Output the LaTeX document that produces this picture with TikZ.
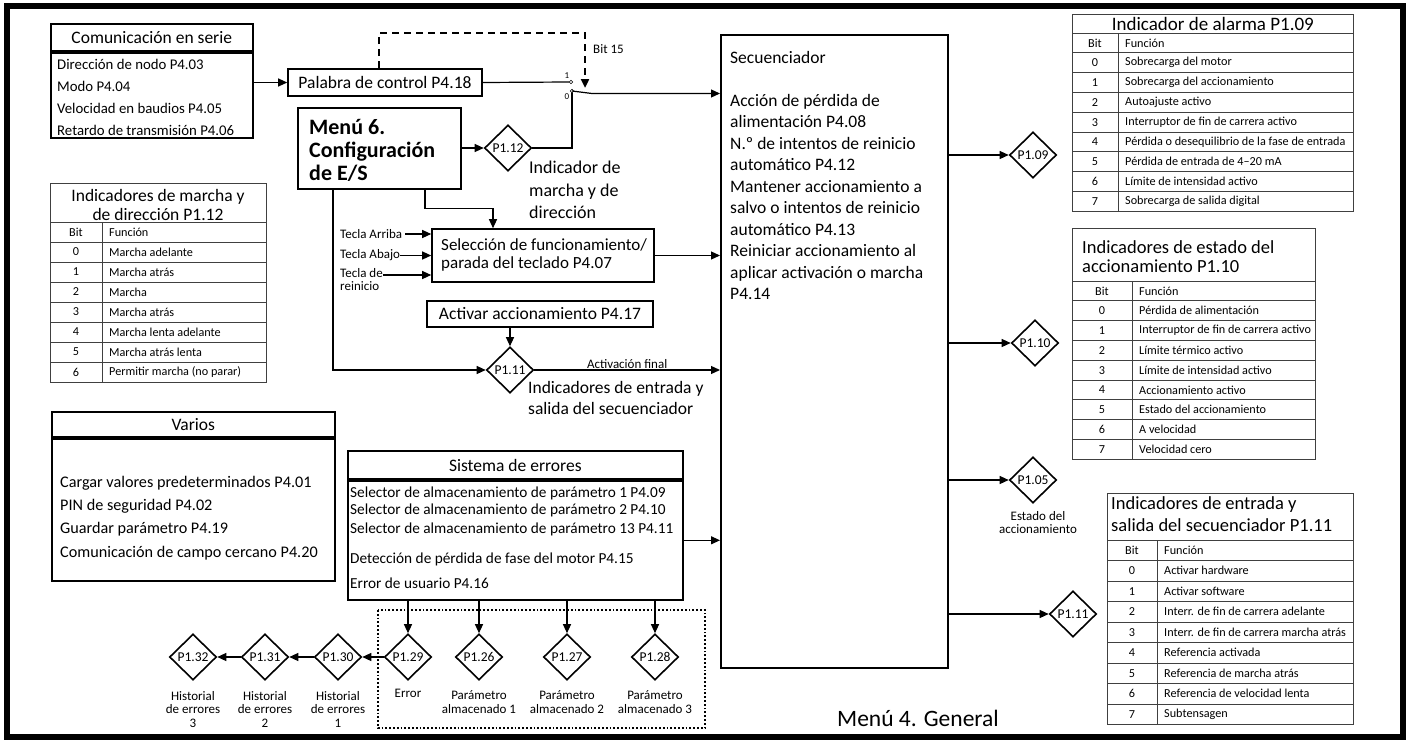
\documentclass[tikz,border=0pt]{standalone}
\usepackage{fontspec}
\setmainfont{Carlito}
\usetikzlibrary{shapes,arrows.meta,positioning,calc}

\newcommand{\bigtxt}{\fontsize{17.5}{21.5}\selectfont}
\newcommand{\celltxt}{\fontsize{12.2}{14}\selectfont}
\newcommand{\smalltxt}{\fontsize{13}{13.5}\selectfont}

\tikzstyle{block} = [rectangle, draw=black, line width=1.6pt, inner sep=0pt, font=\bigtxt]
\tikzstyle{flag} = [diamond, draw=black, line width=1.6pt, minimum width=47pt, minimum height=46pt, inner sep=0pt, font=\fontsize{13.5}{15}\selectfont]
\tikzstyle{arrow} = [line width=1.2pt, -{Triangle[length=9pt,width=8pt]}]
\tikzstyle{wire} = [line width=1.2pt]
\tikzstyle{tabhead} = [rectangle, draw=black!75, line width=0.8pt, inner sep=0pt, font=\bigtxt]
\tikzstyle{tabline} = [draw=black!75, line width=0.8pt]
\tikzstyle{cell} = [inner sep=0pt, font=\celltxt]
\tikzstyle{note} = [inner sep=0pt, font=\smalltxt, align=center]
\tikzstyle{txt} = [inner sep=0pt, align=left]

% bit table rows: name, left x, divider x, right x, first row y, row pitch, rows
\newcommand{\bitrows}[7]{%
  \foreach \b/\f [count=\i from 0] in {#7} {
    \draw[tabline] (#2,{#5+\i*#6}) rectangle (#4,{#5+(\i+1)*#6});
    \draw[tabline] (#3,{#5+\i*#6}) -- (#3,{#5+(\i+1)*#6});
    \node (#1-b\i) [cell] at ({(#2+#3)/2},{#5+(\i+0.5)*#6}) {\b};
    \node (#1-f\i) [cell, anchor=west] at (#3+7,{#5+(\i+0.5)*#6}) {\f};
  }}

\begin{document}
\begin{tikzpicture}[x=1pt, y=-1pt]
	\useasboundingbox (0,0) rectangle (1409,744);
	\draw[line width=6pt] (7,6) rectangle (1403,737);

	% serial comms and control word
	\node (commb) [block, minimum width=202pt, minimum height=85pt, anchor=north west] at (50,52) {};
	\node (commh) [block, minimum width=202pt, minimum height=27pt, anchor=south west] at (commb.north west) {Comunicación en serie};
	\node (commtxt) [txt, font=\fontsize{14.8}{22}\selectfont, anchor=north west] at (57,59) {Dirección de nodo P4.03\\Modo P4.04\\Velocidad en baudios P4.05\\Retardo de transmisión P4.06};
	\node (pal) [block, minimum width=194pt, minimum height=27pt] at (385,82.5) {Palabra de control P4.18};
	\draw [arrow] (commb.east |- pal) -- (pal.west);

	% switch
	\coordinate (sw1) at (571,82);
	\coordinate (sw0) at (572,91);
	\coordinate (swout) at (592,93.5);
	\coordinate (bit) at (585,88);
	\draw [wire] (pal.east) -- ($(sw1)+(-2,0)$);
	\draw [line width=2.4pt, dash pattern=on 7pt off 5pt, -{Triangle[length=9pt,width=8pt]}] ([xshift=-6pt]pal.north) -- ++(0,-35) -| (bit);
	\node (bit15) [note, anchor=west] at (593,49) {Bit 15};
	\node (sw1lbl) [inner sep=0pt, font=\fontsize{9}{9}\selectfont] at (567,76) {1};
	\node (sw0lbl) [inner sep=0pt, font=\fontsize{9}{9}\selectfont] at (567,97) {0};

	% Menu 6
	\node (menu6) [block, line width=2.6pt, minimum width=163pt, minimum height=81pt] at (379.5,148.5) {};
	\node (menu6txt) [txt, font=\fontsize{22}{23}\selectfont\bfseries, anchor=west] at (309,150) {Menú 6.\\Configuración\\de E/S};
	\node (p112) [flag] at (508,148) {P1.12};
	\draw [arrow] (menu6.east |- p112) -- (p112.west);
	\draw [wire] (p112.east) -| (sw0);
	\draw [fill=white, line width=0.6pt] (sw1) circle (1.8pt);
	\draw [fill=white, line width=0.6pt] (sw0) circle (1.8pt);
	\node (p112lbl) [txt, font=\fontsize{18}{22.5}\selectfont, anchor=north west] at (529,161) {Indicador de\\marcha y de\\dirección};

	% sequencer
	\node (seq) [block, minimum width=227pt, minimum height=633pt, anchor=north west] at (720,34) {};
	\node (seqtxt) [txt, font=\fontsize{17.5}{21.5}\selectfont, anchor=north west] at (730,51) {Secuenciador\\[21.5pt]Acción de pérdida de\\alimentación P4.08\\N.º de intentos de reinicio\\automático P4.12\\Mantener accionamiento a\\salvo o intentos de reinicio\\automático P4.13\\Reiniciar accionamiento al\\aplicar activación o marcha\\P4.14};
	\draw [arrow] (sw0) -- (swout) -- (swout -| seq.west);

	% keypad
	\node (sel) [block, minimum width=222pt, minimum height=53pt] at (543,255.5) {};
	\node (seltxt) [txt, font=\fontsize{17}{18}\selectfont, anchor=west] at (441,254.5) {Selección de funcionamiento/\\parada del teclado P4.07};
	\draw [arrow] ([xshift=45.5pt]menu6.south) -- ++(0,18) -| ([xshift=-50pt]sel.north);
	\node (tarr) [note, anchor=west] at (340,234) {Tecla Arriba};
	\node (taba) [note, anchor=west] at (340,255.5) {Tecla Abajo};
	\node (trei) [note, anchor=north west, align=left] at (340,268) {Tecla de\\reinicio};
	\coordinate (rein) at ($(sel.west)+(0,19.5)$);
	\draw [arrow] ([xshift=3pt]tarr.east) -- (tarr.east -| sel.west);
	\draw [arrow] (taba.east) -- (taba.east -| sel.west);
	\draw [arrow] (trei.east |- rein) -- (rein);
	\draw [arrow] (sel.east) -- (sel.east -| seq.west);

	% enable
	\node (act) [block, minimum width=226pt, minimum height=26pt] at (540,314) {Activar accionamiento P4.17};
	\node (p111) [flag] at (510,370) {P1.11};
	\draw [arrow] (act.south -| p111) -- (p111.north);
	\draw [arrow] ([xshift=-46.5pt]menu6.south) |- (p111.west);
	\draw [arrow] (p111.east) -- (p111.east -| seq.west) node[midway, above=1pt, font=\smalltxt, inner sep=0pt] (actfin) {Activación final};
	\node (p111lbl) [txt, font=\fontsize{17.5}{21}\selectfont, anchor=north west] at (528,381) {Indicadores de entrada y\\salida del secuenciador};

	% trip system
	\node (errb) [block, minimum width=335pt, minimum height=119pt, anchor=north west] at (347,480) {};
	\node (errh) [block, minimum width=335pt, minimum height=28pt, anchor=south west] at (errb.north west) {Sistema de errores};
	\node (errtxt) [txt, font=\fontsize{15.3}{16.5}\selectfont, anchor=north west] at (350,487) {Selector de almacenamiento de parámetro 1 P4.09\\Selector de almacenamiento de parámetro 2 P4.10\\[3pt]Selector de almacenamiento de parámetro 13 P4.11\\[13pt]Detección de pérdida de fase del motor P4.15\\[9pt]Error de usuario P4.16};
	\draw [arrow] (errb.east) -- (errb.east -| seq.west);

	\node (p129) [flag] at (408,657) {P1.29};
	\node (p126) [flag] at (479,657) {P1.26};
	\node (p127) [flag] at (567,657) {P1.27};
	\node (p128) [flag] at (655,657) {P1.28};
	\node (p130) [flag] at (338,657) {P1.30};
	\node (p131) [flag] at (265,657) {P1.31};
	\node (p132) [flag] at (193,657) {P1.32};
	\foreach \d in {p129,p126,p127,p128}
		\draw [arrow] (errb.south -| \d) -- (\d.north);
	\foreach \a/\b in {p129/p130,p130/p131,p131/p132}
		\draw [arrow] (\a.west) -- (\b.east);
	\node (p129lbl) [note, below=8pt of p129] {Error};
	\node (p126lbl) [note, below=10pt of p126] {Parámetro\\almacenado 1};
	\node (p127lbl) [note, below=10pt of p127] {Parámetro\\almacenado 2};
	\node (p128lbl) [note, below=10pt of p128] {Parámetro\\almacenado 3};
	\node (p130lbl) [note, below=10pt of p130] {Historial\\de errores\\1};
	\node (p131lbl) [note, below=10pt of p131] {Historial\\de errores\\2};
	\node (p132lbl) [note, below=10pt of p132] {Historial\\de errores\\3};
	\draw [line width=1.8pt, dotted] (378,610) rectangle (705,728);

	% misc
	\node (varb) [block, minimum width=283pt, minimum height=142pt, anchor=north west] at (51,438) {};
	\node (varh) [block, minimum width=283pt, minimum height=25pt, anchor=south west] at (varb.north west) {Varios};
	\node (vartxt) [txt, font=\fontsize{16.2}{23.3}\selectfont, anchor=west] at (60,518) {Cargar valores predeterminados P4.01\\PIN de seguridad P4.02\\Guardar parámetro P4.19\\Comunicación de campo cercano P4.20};

	% status outputs
	\node (p109) [flag] at (1033,155) {P1.09};
	\node (p110) [flag] at (1035,343) {P1.10};
	\node (p105) [flag] at (1033,480) {P1.05};
	\node (p111b) [flag] at (1073,614) {P1.11};
	\foreach \d in {p109,p110,p105,p111b}
		\draw [arrow] (\d.west -| seq.east) -- (\d.west);
	\node (p105lbl) [note, below=7pt of p105, xshift=5pt] {Estado del\\accionamiento};
	\node (menu4) [inner sep=0pt, font=\fontsize{23.5}{24}\selectfont] at (918,718) {Menú 4. General};

	% bit tables
	\node (t112) [tabhead, minimum width=216pt, minimum height=39pt, anchor=north west] at (50,183) {};
	\node (t112txt) [txt, align=center, font=\fontsize{17.5}{19.5}\selectfont] at (158,205) {Indicadores de marcha y\\de dirección P1.12};
	\bitrows{t112}{50}{102}{266}{222}{20}{Bit/Función, 0/Marcha adelante, 1/Marcha atrás, 2/Marcha, 3/Marcha atrás, 4/Marcha lenta adelante, 5/Marcha atrás lenta, 6/Permitir marcha (no parar)}

	\node (t109) [tabhead, font=\fontsize{19}{20}\selectfont, minimum width=281pt, minimum height=19pt, anchor=north west] at (1072,14) {Indicador de alarma P1.09};
	\bitrows{t109}{1072}{1118}{1353}{33}{19.8}{Bit/Función, 0/Sobrecarga del motor, 1/Sobrecarga del accionamiento, 2/Autoajuste activo, 3/Interruptor de fin de carrera activo, 4/Pérdida o desequilibrio de la fase de entrada, 5/Pérdida de entrada de 4–20 mA, 6/Límite de intensidad activo, 7/Sobrecarga de salida digital}

	\node (t110) [tabhead, minimum width=243pt, minimum height=53pt, anchor=north west] at (1072,228) {};
	\node (t110txt) [txt, font=\fontsize{18.5}{19}\selectfont, anchor=west] at (1082,256.5) {Indicadores de estado del\\accionamiento P1.10};
	\bitrows{t110}{1072}{1132}{1315}{281}{19.8}{Bit/Función, 0/Pérdida de alimentación, 1/Interruptor de fin de carrera activo, 2/Límite térmico activo, 3/Límite de intensidad activo, 4/Accionamiento activo, 5/Estado del accionamiento, 6/A velocidad, 7/Velocidad cero}

	\node (t111) [tabhead, minimum width=246pt, minimum height=47pt, anchor=north west] at (1107,493) {};
	\node (t111txt) [txt, font=\fontsize{18.5}{22}\selectfont, anchor=west] at (1111,514) {Indicadores de entrada y\\salida del secuenciador P1.11};
	\bitrows{t111}{1107}{1157}{1353}{540}{20.5}{Bit/Función, 0/Activar hardware, 1/Activar software, 2/Interr. de fin de carrera adelante, 3/Interr. de fin de carrera marcha atrás, 4/Referencia activada, 5/Referencia de marcha atrás, 6/Referencia de velocidad lenta, 7/Subtensagen}
\end{tikzpicture}
\end{document}
